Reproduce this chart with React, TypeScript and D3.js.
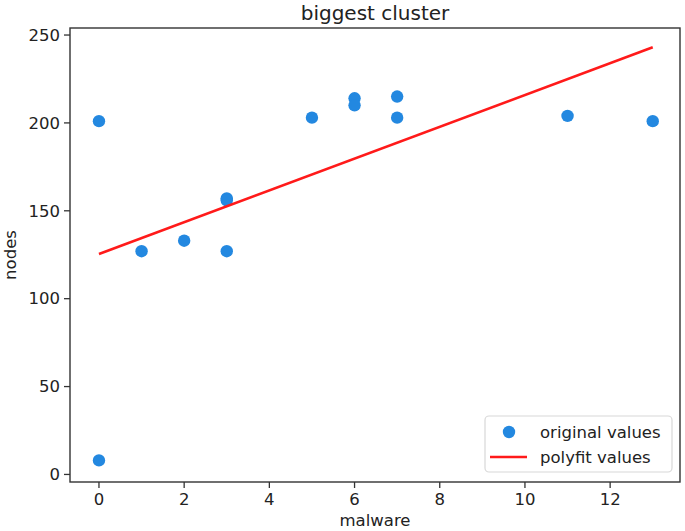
import React from 'react';
import * as d3 from 'd3';

// values
const malware = [0, 0, 1, 2, 3, 3, 3, 5, 6, 6, 7, 7, 11, 13];
const nodes = [201, 8, 127, 133, 157, 156, 127, 203, 214, 210, 215, 203, 204, 201];
const fitX = [0, 13];
const fitY = [125.4, 243];
const xTicks = [0, 2, 4, 6, 8, 10, 12];
const yTicks = [0, 50, 100, 150, 200, 250];

const W = 685;
const H = 531;
const margin = { top: 28, right: 5, bottom: 49, left: 70 };
const FONT = 'DejaVu Sans, sans-serif';

const App = () => {
  const x = d3.scaleLinear().domain([-0.68, 13.64]).range([margin.left, W - margin.right]);
  const y = d3.scaleLinear().domain([-4.3, 254]).range([H - margin.bottom, margin.top]);
  const line = d3.line<number>().x((d, i) => x(fitX[i])).y(d => y(d));

  const x0 = margin.left, x1 = W - margin.right;
  const y0 = H - margin.bottom, y1 = margin.top;
  const tick = 6;

  return (
    <svg width={W} height={H} style={{ position: 'absolute', left: 0, top: 0, background: '#fff' }}
      fontFamily={FONT}>
      <text x={(x0 + x1) / 2} y={20} textAnchor="middle" fontSize={20} fill="#222">biggest cluster</text>

      {nodes.map((v, i) => (
        <circle key={i} cx={x(malware[i])} cy={y(v)} r={6.2} fill="#2388e0" />
      ))}
      <path d={line(fitY) || ''} stroke="#ff1a1a" strokeWidth={2.6} fill="none" />

      <rect x={x0} y={y1} width={x1 - x0} height={y0 - y1} fill="none" stroke="#333" strokeWidth={1.4} />

      {xTicks.map(t => (
        <g key={t} transform={`translate(${x(t)},${y0})`}>
          <line y2={tick} stroke="#333" strokeWidth={1.3} />
          <text y={23} textAnchor="middle" fontSize={16.5} fill="#222">{t}</text>
        </g>
      ))}
      {yTicks.map(t => (
        <g key={t} transform={`translate(${x0},${y(t)})`}>
          <line x2={-tick} stroke="#333" strokeWidth={1.3} />
          <text x={-10} dy="0.35em" textAnchor="end" fontSize={16.5} fill="#222">{t}</text>
        </g>
      ))}

      <text x={(x0 + x1) / 2} y={526} textAnchor="middle" fontSize={16.5} fill="#222">malware</text>
      <text transform={`translate(16,${(y0 + y1) / 2}) rotate(-90)`} textAnchor="middle" fontSize={16.5} fill="#222">nodes</text>

      <g>
        <rect x={485} y={416} width={187} height={56} rx={4} fill="#fff" fillOpacity={0.8} stroke="#d8d8d8" strokeWidth={1.2} />
        <circle cx={509} cy={432} r={6.2} fill="#2388e0" />
        <text x={540} y={438} fontSize={16.5} fill="#222">original values</text>
        <line x1={490} x2={527} y1={457} y2={457} stroke="#ff1a1a" strokeWidth={2.6} />
        <text x={540} y={463} fontSize={16.5} fill="#222">polyfit values</text>
      </g>
    </svg>
  );
};

export default App;
